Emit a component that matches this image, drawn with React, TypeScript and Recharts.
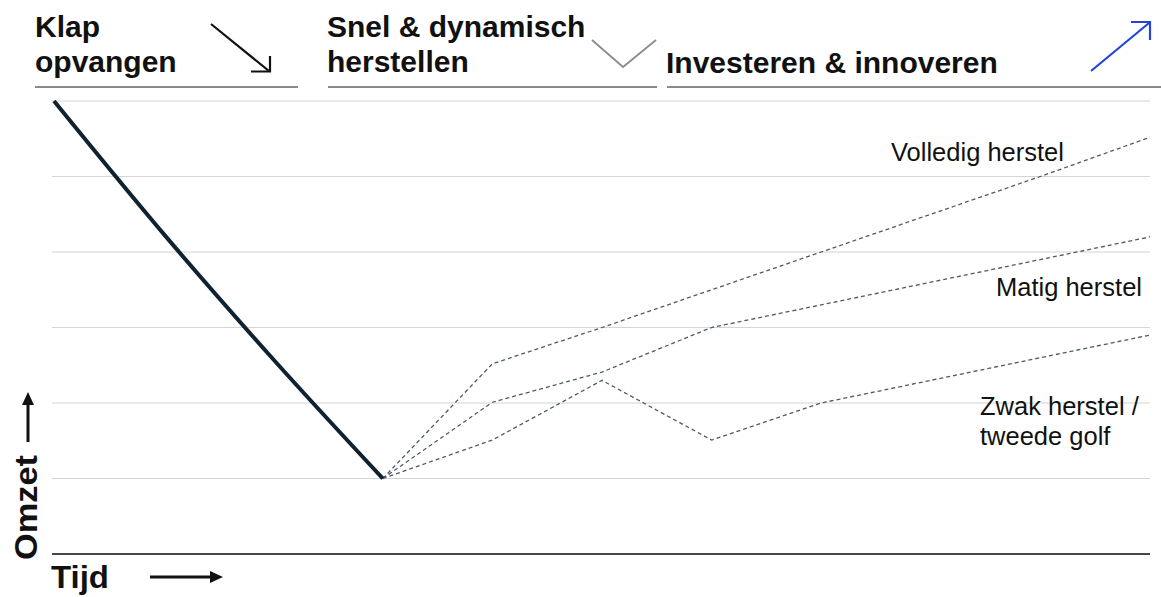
import React from "react";
import { LineChart, Line, XAxis, YAxis, CartesianGrid } from "recharts";

const periods = [0, 1, 2, 3, 4, 5, 6, 7, 8, 9, 10];
const klapValues = [6, 4.24, 2.58, 1, null, null, null, null, null, null, null];
const volledigValues = [null, null, null, 1, 2.52, 3.0, 3.5, 4.0, 4.5, 5.0, 5.52];
const matigValues = [null, null, null, 1, 2.01, 2.41, 3.0, 3.3, 3.6, 3.9, 4.2];
const zwakValues = [null, null, null, 1, 1.51, 2.3, 1.51, 2.0, 2.3, 2.6, 2.9];
const yTicks = [0, 1, 2, 3, 4, 5, 6];

const data = periods.map((p, i) => ({
  t: p,
  klap: klapValues[i],
  volledig: volledigValues[i],
  matig: matigValues[i],
  zwak: zwakValues[i],
}));

const FONT = "'Liberation Sans', Arial, Helvetica, sans-serif";
const DASH = "#4d5b69";

export default function App() {
  return (
    <div style={{ position: "absolute", left: 0, top: 0, width: 1161, height: 597, background: "#fff" }}>
      <LineChart
        width={1161}
        height={597}
        data={data}
        margin={{ top: 101, right: 11, bottom: 42, left: 52 }}
      >
        <CartesianGrid horizontal vertical={false} stroke="#d4d4d4" strokeWidth={1.2} />
        <XAxis
          dataKey="t"
          type="number"
          domain={[0, 10]}
          padding={{ left: 2, right: 0 }}
          tick={false}
          tickLine={false}
          height={1}
          axisLine={{ stroke: "#111", strokeWidth: 1.5 }}
        />
        <YAxis hide domain={[0, 6]} ticks={yTicks} width={0} />
        <Line dataKey="volledig" stroke={DASH} strokeWidth={1.3} strokeDasharray="4 3" dot={false} isAnimationActive={false} />
        <Line dataKey="matig" stroke={DASH} strokeWidth={1.3} strokeDasharray="4 3" dot={false} isAnimationActive={false} />
        <Line dataKey="zwak" stroke={DASH} strokeWidth={1.3} strokeDasharray="4 3" dot={false} isAnimationActive={false} />
        <Line type="monotone" dataKey="klap" stroke="#0e2231" strokeWidth={4} dot={false} isAnimationActive={false} />
      </LineChart>
      <svg
        width={1161}
        height={597}
        style={{ position: "absolute", left: 0, top: 0, pointerEvents: "none" }}
      >
        {/* Headers */}
        <g fontFamily={FONT} fontWeight="bold" fontSize={30} fill="#111">
          <text x={35} y={37}>Klap</text>
          <text x={35} y={72}>opvangen</text>
          <text x={327} y={37}>Snel &amp; dynamisch</text>
          <text x={327} y={72}>herstellen</text>
          <text x={666} y={73}>Investeren &amp; innoveren</text>
        </g>
        <g stroke="#8a8a8a" strokeWidth={2.2}>
          <line x1={35} y1={87} x2={298} y2={87} />
          <line x1={328} y1={87} x2={657} y2={87} />
          <line x1={667} y1={87} x2={1161} y2={87} />
        </g>
        {/* Icons */}
        <g fill="none" strokeWidth={2.2}>
          <line x1={211} y1={24} x2={269} y2={71} stroke="#111" />
          <polyline points="251,71.5 270,71.5 270,56" stroke="#111" />
          <polyline points="592,40 623,67 656,40" stroke="#8c8c8c" strokeWidth={1.8} />
          <line x1={1091} y1={71} x2={1149} y2={23} stroke="#2244dd" />
          <polyline points="1131,22 1150,22 1150,40" stroke="#2244dd" />
        </g>
        {/* Series labels */}
        <g fontFamily={FONT} fontSize={25.5} fill="#111">
          <text x={891} y={161}>Volledig herstel</text>
          <text x={996} y={296}>Matig herstel</text>
          <text x={980} y={415}>Zwak herstel /</text>
          <text x={980} y={445}>tweede golf</text>
        </g>
        {/* Axis titles */}
        <g fontFamily={FONT} fontWeight="bold" fontSize={31} fill="#111">
          <text x={51} y={588} textLength={58} lengthAdjust="spacingAndGlyphs">Tijd</text>
          <text transform="translate(37,560) rotate(-90)" textLength={105} lengthAdjust="spacingAndGlyphs">Omzet</text>
        </g>
        <g stroke="#111" strokeWidth={3} fill="#111">
          <line x1={150} y1={577} x2={212} y2={577} />
          <polygon points="210,571 223,577 210,583" stroke="none" />
          <line x1={28} y1={442} x2={28} y2={403} />
          <polygon points="22,405 28,392 34,405" stroke="none" />
        </g>
      </svg>
    </div>
  );
}
